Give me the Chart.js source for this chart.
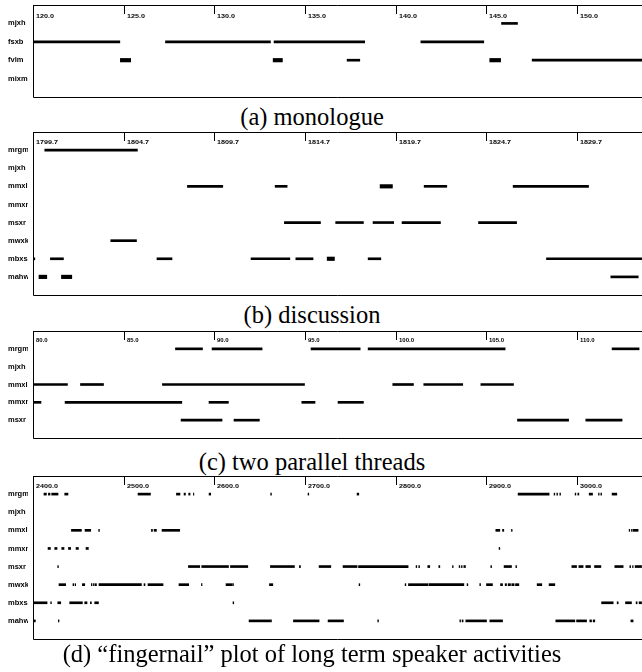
<!DOCTYPE html>
<html><head><meta charset="utf-8">
<script src="https://cdn.jsdelivr.net/npm/chart.js@4"></script>
<style>
html,body{margin:0;padding:0;background:#fff}
body{width:642px;height:672px;overflow:hidden;position:relative}
canvas{position:absolute;left:0}
.cap{position:absolute;left:0;width:624px;text-align:center;font-family:"Liberation Serif","Times New Roman",serif;font-size:24.5px;line-height:25px;color:#000;white-space:nowrap}
</style></head><body>
<canvas id="ca" width="642" height="100" style="top:0"></canvas>
<div class="cap" style="top:104px">(a) monologue</div>
<canvas id="cb" width="642" height="170" style="top:128px"></canvas>
<div class="cap" style="top:302px">(b) discussion</div>
<canvas id="cc" width="642" height="114" style="top:327px"></canvas>
<div class="cap" style="top:449px">(c) two parallel threads</div>
<canvas id="cd" width="642" height="170" style="top:472px"></canvas>
<div class="cap" style="top:641px">(d) “fingernail” plot of long term speaker activities</div>
<script>
// ---------- (a) monologue ----------
const a_ticks = [120.0,125.0,130.0,135.0,140.0,145.0,150.0];
const a_rows = ['mjxh','fsxb','fvlm','mixm'];
const a_mjxh = [[145.85,146.73]];
const a_fsxb = [[120.0,124.79],[127.31,133.1],[133.3,138.3],[141.4,144.87]];
const a_fvlm = [[124.82,125.39,1],[133.25,133.76,1],[137.33,138.03],[145.2,145.8,1],[147.54,153.6]];
const a_mixm = [];

// ---------- (b) discussion ----------
const b_ticks = [1799.7,1804.7,1809.7,1814.7,1819.7,1824.7,1829.7];
const b_rows = ['mrgm','mjxh','mmxl','mmxm','msxr','mwxk','mbxs','mahw'];
const b_mrgm = [[1800.35,1805.46]];
const b_mjxh = [];
const b_mmxl = [[1808.22,1810.17],[1813.06,1813.72],[1818.85,1819.53,1],[1821.28,1822.53],[1826.19,1830.35]];
const b_mmxm = [];
const b_msxr = [[1813.57,1815.56],[1816.4,1817.93],[1818.46,1819.6],[1820.06,1822.18],[1824.28,1826.38]];
const b_mwxk = [[1803.99,1805.41]];
const b_mbxs = [[1799.7,1799.8],[1800.66,1801.38],[1806.54,1807.37],[1811.73,1813.87],[1814.2,1815.15],[1815.93,1816.33,1],[1818.19,1818.89],[1828.03,1833.4]];
const b_mahw = [[1800.03,1800.46,1],[1801.27,1801.84,1],[1831.58,1833.09]];

// ---------- (c) two parallel threads ----------
const c_ticks = [80.0,85.0,90.0,95.0,100.0,105.0,110.0];
const c_rows = ['mrgm','mjxh','mmxl','mmxm','msxr'];
const c_mrgm = [[87.86,89.35],[89.88,92.64],[95.34,98.05],[98.49,106.05],[111.95,113.44]];
const c_mjxh = [];
const c_mmxl = [[80.0,81.9],[82.62,83.89],[87.14,94.98],[99.85,100.99],[101.56,103.71],[104.71,106.51]];
const c_mmxm = [[80.0,80.44],[81.77,88.21],[89.71,90.78],[94.83,95.56],[96.83,98.23]];
const c_msxr = [[88.17,90.43],[91.09,92.49],[106.73,109.55],[110.5,112.5]];

// ---------- (d) fingernail plot ----------
const d_ticks = [2400.0,2500.0,2600.0,2700.0,2800.0,2900.0,3000.0];
const d_rows = ['mrgm','mjxh','mmxl','mmxm','msxr','mwxk','mbxs','mahw'];
const d_mrgm = [[2412.1,2414.8],[2417.0,2418.8],[2420.6,2427.6],[2435.0,2438.6],[2515.9,2529.6],[2558.3,2562.2],[2566.7,2568.2],[2571.8,2573.3],[2577.0,2577.5],[2594.3,2596.1],[2662.3,2663.1],[2703.5,2704.3],[2757.6,2759.5],[2935.3,2969.5],[2975.0,2975.8],[2978.0,2978.8],[2981.3,2982.1],[2998.2,2999.0],[3001.2,3002.3],[3013.7,3017.4],[3024.0,3024.7],[3026.6,3027.4],[3039.0,3044.2]];
const d_mjxh = [];
const d_mmxl = [[2400.0,2400.5],[2442.4,2453.4],[2457.4,2463.7],[2472.5,2473.3],[2530.7,2531.8],[2533.6,2536.2],[2542.4,2561.9],[2910.7,2915.1],[2918.1,2919.5],[2928.0,2928.7],[3057.8,3058.5],[3060.4,3061.1],[3062.2,3067.7]];
const d_mmxm = [[2416.6,2419.2],[2424.0,2426.5],[2431.7,2434.2],[2439.1,2441.6],[2447.5,2450.1],[2458.5,2461.1],[2914.3,2915.1]];
const d_msxr = [[2427.3,2428.0],[2571.5,2584.0],[2586.2,2615.7],[2617.9,2637.0],[2662.0,2688.5],[2694.0,2695.1],[2715.7,2728.6],[2742.1,2757.6],[2759.2,2813.9],[2822.7,2823.5],[2825.7,2826.5],[2835.6,2837.8],[2847.8,2848.9],[2862.9,2863.6],[2870.2,2871.0],[2872.8,2873.5],[2875.4,2877.2],[2905.2,2906.0],[2919.8,2928.0],[2932.8,2933.6],[2994.6,2999.8],[3002.3,3007.0],[3010.0,3015.2],[3019.6,3026.6],[3042.0,3051.2],[3058.6,3059.4],[3061.6,3062.2],[3064.4,3071.5]];
const d_mwxk = [[2428.7,2436.1],[2444.1,2444.9],[2446.4,2447.1],[2454.5,2457.1],[2464.4,2465.1],[2466.7,2467.3],[2468.4,2470.0],[2472.8,2519.6],[2522.5,2523.6],[2526.9,2543.5],[2561.1,2571.8],[2585.9,2586.5],[2613.0,2619.6],[2620.4,2621.2],[2660.9,2664.6],[2759.8,2760.6],[2810.6,2811.4],[2814.3,2836.0],[2837.1,2875.4],[2879.0,2879.8],[2893.0,2893.8],[2900.4,2907.0],[2915.9,2918.1],[2921.0,2922.5],[2924.3,2926.9],[2928.3,2930.9],[2932.4,2936.1],[2956.3,2961.4],[2969.5,2975.8]];
const d_mbxs = [[2401.1,2415.5],[2419.5,2420.3],[2427.3,2430.6],[2440.5,2454.5],[2457.1,2459.6],[2463.3,2464.4],[2468.1,2472.2],[2620.7,2621.5],[3027.4,3040.2],[3044.6,3045.7],[3053.8,3060.4],[3065.5,3066.6],[3068.8,3071.5]];
const d_mahw = [[2400.8,2402.6],[2428.0,2428.7],[2638.4,2661.3],[2662.0,2663.1],[2687.4,2715.7],[2725.6,2742.6],[2780.4,2781.2],[2871.0,2871.8],[2873.5,2874.6],[2877.6,2900.4],[2904.1,2918.1],[2976.9,2997.9],[2999.8,3010.8],[3014.4,3016.3],[3018.1,3019.9],[3059.7,3062.2]];

const LABEL_FONT = 'bold 7.5px "Liberation Sans", Arial, sans-serif';

function buildSets(rowSeries) {
  const thin = [], thick = [];
  rowSeries.forEach((segs, i) => {
    segs.forEach(s => {
      const pt = { x: [s[0], s[1]], y: i + 1 };
      (s[2] ? thick : thin).push(pt);
    });
  });
  return [
    { data: thin, backgroundColor: '#000', borderWidth: 0, barThickness: 2, grouped: false },
    { data: thick, backgroundColor: '#000', borderWidth: 0, barThickness: 3.5, grouped: false }
  ];
}

function stretchedText(ctx, txt, x, y, sx) {
  ctx.save();
  ctx.translate(x, y);
  ctx.scale(sx, 1);
  ctx.fillText(txt, 0, 0);
  ctx.restore();
}

const framePlugin = {
  id: 'frame',
  afterDatasetsDraw(chart, args, opts) {
    const ctx = chart.ctx, ca = chart.chartArea;
    const xs = chart.scales.x, ys = chart.scales.y;
    ctx.save();
    ctx.strokeStyle = '#000';
    ctx.lineWidth = 1;
    ctx.beginPath();
    ctx.moveTo(ca.left + 0.5, ca.top + 0.5); ctx.lineTo(chart.width, ca.top + 0.5);
    ctx.moveTo(ca.left + 0.5, ca.top + 0.5); ctx.lineTo(ca.left + 0.5, ca.bottom + 0.5);
    ctx.moveTo(ca.left + 0.5, ca.bottom + 0.5); ctx.lineTo(chart.width, ca.bottom + 0.5);
    ctx.stroke();
    // tick marks and labels
    ctx.fillStyle = '#000';
    ctx.font = opts.tickFont;
    ctx.textAlign = 'left';
    ctx.textBaseline = 'middle';
    opts.ticks.forEach(t => {
      const px = Math.round(xs.getPixelForValue(t)) + 0.5;
      ctx.beginPath();
      ctx.moveTo(px, ca.top); ctx.lineTo(px, ca.top + 9);
      ctx.stroke();
      stretchedText(ctx, t.toFixed(1), px + 2.5, ca.top + opts.labelDy, 1.2);
    });
    // row labels (clipped at the frame)
    ctx.beginPath();
    ctx.rect(0, ca.top - 2, 28, ca.bottom - ca.top + 4);
    ctx.clip();
    ctx.font = LABEL_FONT;
    opts.rows.forEach((r, i) => {
      ctx.fillText(r, 8, ys.getPixelForValue(i + 1));
    });
    ctx.restore();
  }
};

function makePanel(id, rows, series, ticks, xmin, pad, tickFont, labelDy) {
  new Chart(document.getElementById(id), {
    type: 'bar',
    data: { datasets: buildSets(series) },
    options: {
      responsive: false,
      animation: false,
      indexAxis: 'y',
      layout: { padding: pad },
      scales: {
        x: { type: 'linear', min: xmin, max: xmin + (ticks[1] - ticks[0]) * 6.72, display: false, offset: false },
        y: { type: 'linear', min: 0, max: rows.length + 1, reverse: true, display: false, offset: false }
      },
      plugins: {
        legend: { display: false },
        tooltip: { enabled: false },
        frame: { ticks: ticks, rows: rows, tickFont: tickFont, labelDy: labelDy }
      }
    },
    plugins: [framePlugin]
  });
}

makePanel('ca', a_rows, [a_mjxh, a_fsxb, a_fvlm, a_mixm], a_ticks, 120.0,
  { left: 33, top: 5, right: 0, bottom: 3 }, 'bold 6px "Liberation Sans", Arial, sans-serif', 11);
makePanel('cb', b_rows, [b_mrgm, b_mjxh, b_mmxl, b_mmxm, b_msxr, b_mwxk, b_mbxs, b_mahw], b_ticks, 1799.7,
  { left: 33, top: 4, right: 0, bottom: 3 }, 'bold 6px "Liberation Sans", Arial, sans-serif', 10);
makePanel('cc', c_rows, [c_mrgm, c_mjxh, c_mmxl, c_mmxm, c_msxr], c_ticks, 80.0,
  { left: 33, top: 4, right: 0, bottom: 3 }, 'bold 5px "Liberation Sans", Arial, sans-serif', 10);
makePanel('cd', d_rows, [d_mrgm, d_mjxh, d_mmxl, d_mmxm, d_msxr, d_mwxk, d_mbxs, d_mahw], d_ticks, 2400.0,
  { left: 33, top: 4, right: 0, bottom: 3 }, 'bold 6px "Liberation Sans", Arial, sans-serif', 10);
</script>
</body></html>
